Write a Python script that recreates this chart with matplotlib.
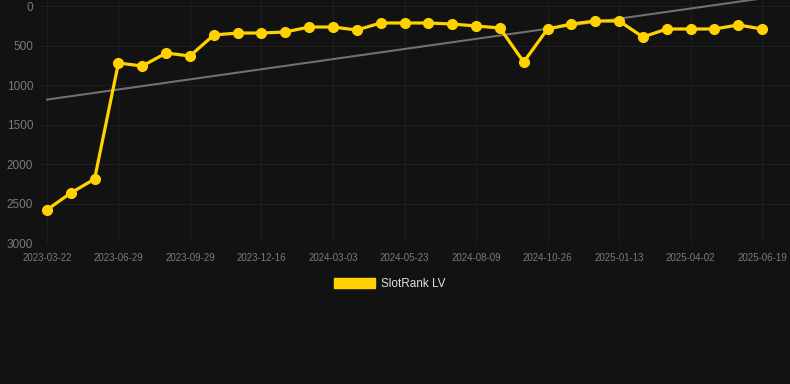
import matplotlib
matplotlib.use("Agg")
from matplotlib import pyplot as plt
from matplotlib.patches import Patch
import numpy as np

plt.rcParams['font.family'] = ['Liberation Sans', 'DejaVu Sans']

# rank values, one point per step (31 points)
ranks = [2580, 2367, 2190, 721, 760, 595, 633, 367, 342, 342,
         329, 266, 266, 304, 215, 215, 215, 228, 253, 278,
         709, 291, 228, 190, 190, 392, 291, 291, 291, 240, 291]
# a date label on every third point
tick_labels = ['2023-03-22', '2023-06-29', '2023-09-29', '2023-12-16',
               '2024-03-03', '2024-05-23', '2024-08-09', '2024-10-26',
               '2025-01-13', '2025-04-02', '2025-06-19']
series_name = 'SlotRank LV'

bg = '#121212'
gold = '#FFD200'

fig = plt.figure(figsize=(7.9, 3.84), dpi=100, facecolor=bg)
ax = fig.add_axes([40 / 790, 1 - 243 / 384, 750 / 790, 243 / 384])
ax.set_facecolor(bg)

x = np.arange(len(ranks))

# linear trend over the whole series
k, b = np.polyfit(x, ranks, 1)
xt = np.array([0, 32])
ax.plot(xt, k * xt + b, color='#707070', lw=1.5, zorder=2)

ax.plot(x, ranks, color=gold, lw=2.3, marker='o', ms=7, zorder=3)

ax.set_xlim(-0.29, 31.17)
ax.set_ylim(3000, -76)
ax.set_yticks([0, 500, 1000, 1500, 2000, 2500, 3000])
ax.set_xticks(x[::3])
ax.set_xticklabels(tick_labels)

ax.grid(True, color='#1e1e1e', lw=0.8)
ax.set_axisbelow(True)
for s in ax.spines.values():
    s.set_visible(False)
ax.tick_params(axis='both', length=0, colors='#7a7a7a')
ax.tick_params(axis='y', labelsize=8.5, pad=5)
ax.tick_params(axis='x', labelsize=7, pad=7)

handle = Patch(facecolor=gold, edgecolor=gold)
fig.legend([handle], [series_name], loc='center', bbox_to_anchor=(390 / 790, 1 - 284 / 384),
           frameon=False, fontsize=8.5, labelcolor='#e0e0e0',
           handlelength=3.4, handleheight=0.93, handletextpad=0.55)

fig.savefig('out.png', dpi=100, facecolor=bg)
